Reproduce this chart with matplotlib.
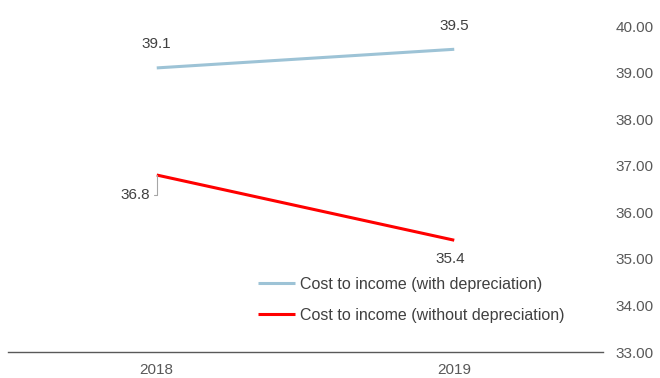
import matplotlib.pyplot as plt

plt.rcParams['font.family'] = ['Liberation Sans', 'DejaVu Sans']

years = ['2018', '2019']
with_depr = [39.1, 39.5]
without_depr = [36.8, 35.4]
series_names = ['Cost to income (with depreciation)',
                'Cost to income (without depreciation)']
y_ticks = [33, 34, 35, 36, 37, 38, 39, 40]

blue = '#9dc3d6'
red = '#ff0000'
text_col = '#404040'
fs = 11

fig = plt.figure(figsize=(6.6, 3.78), dpi=100)
ax = fig.add_axes([8 / 660, 1 - 352 / 378, 595 / 660, 326 / 378])

x = list(range(len(years)))
ax.plot(x, with_depr, color=blue, lw=2.2, solid_capstyle='butt', label=series_names[0])
ax.plot(x, without_depr, color=red, lw=2.2, solid_capstyle='butt', label=series_names[1])

ax.set_xlim(-0.5, 1.5)
ax.set_ylim(33, 40)
ax.set_xticks(x, years)
ax.set_yticks(y_ticks, [f'{v:.2f}' for v in y_ticks])
ax.yaxis.tick_right()
ax.tick_params(axis='both', length=0, labelsize=fs, labelcolor='#595959')
ax.tick_params(axis='y', pad=9)
ax.tick_params(axis='x', pad=8)

for side in ['top', 'left', 'right']:
    ax.spines[side].set_visible(False)
ax.spines['bottom'].set_color('#595959')
ax.spines['bottom'].set_linewidth(1.0)

# data labels
ax.annotate(f'{with_depr[0]}', (x[0], with_depr[0]), xytext=(0, 24), textcoords='offset pixels',
            ha='center', va='center', fontsize=fs, color=text_col)
ax.annotate(f'{with_depr[1]}', (x[1], with_depr[1]), xytext=(0, 23), textcoords='offset pixels',
            ha='center', va='center', fontsize=fs, color=text_col)
ax.annotate(f'{without_depr[0]}', (x[0], without_depr[0]), xytext=(-7, -20), textcoords='offset pixels',
            ha='right', va='center', fontsize=fs, color=text_col,
            arrowprops=dict(arrowstyle='-', color='#a6a6a6', lw=0.8, shrinkA=1, shrinkB=0,
                            connectionstyle='angle,angleA=0,angleB=90,rad=0'))
ax.annotate(f'{without_depr[1]}', (x[1], without_depr[1]), xytext=(-4, -19), textcoords='offset pixels',
            ha='center', va='center', fontsize=fs, color=text_col)

leg = ax.legend(loc='upper left', bbox_to_anchor=(258 / 660, 1 - 277 / 378),
                bbox_transform=fig.transFigure, frameon=False, fontsize=11.5,
                handlelength=2.3, handletextpad=0.3, labelspacing=1.0,
                borderpad=0, borderaxespad=0)
for t in leg.get_texts():
    t.set_color(text_col)

fig.savefig('out.png', dpi=100)
